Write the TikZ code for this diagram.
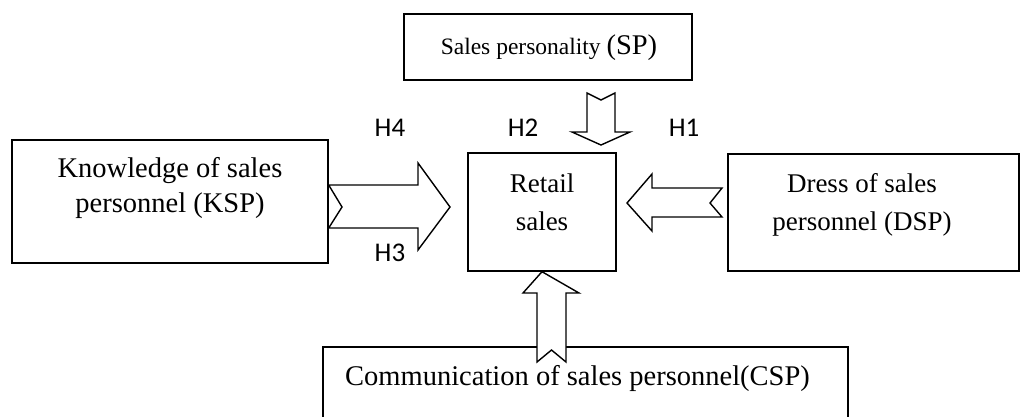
\documentclass[tikz,border=0pt]{standalone}
\usepackage{fontspec}
\setmainfont{Liberation Serif}
\newfontfamily\hfont{Carlito}
\begin{document}
\begin{tikzpicture}[x=1pt,y=-1pt,
  box/.style={draw, line width=1.4pt, inner sep=0pt},
  txt/.style={inner sep=0pt, font=\fontsize{28.5}{35}\selectfont},
  hlab/.style={inner sep=0pt, anchor=base, font=\hfont\fontsize{27}{30}\selectfont},
  blockarrow/.style={draw, fill=white, line width=1.4pt, line join=miter}]
\useasboundingbox (0,0) rectangle (1021,416);
% boxes
\node[box, minimum width=288pt, minimum height=66pt] (sp) at (548,47) {};
\node[box, minimum width=316pt, minimum height=123pt] (ksp) at (170,201.5) {};
\node[box, minimum width=148pt, minimum height=118pt] (ret) at (542,212) {};
\node[box, minimum width=291pt, minimum height=117pt] (dsp) at (873.5,212.5) {};
\node[box, minimum width=525pt, minimum height=93pt] (csp) at (585.5,393.5) {};
% texts
\node[txt, anchor=base] (spt) at (549,54) {{\fontsize{23.5}{28}\selectfont Sales personality }(SP)};
\node[txt, align=center, anchor=base] (kspt) at (170,212) {Knowledge of sales\\personnel (KSP)};
\node[txt, align=center, anchor=base, font=\fontsize{27}{38}\selectfont] (rett) at (542,230) {Retail\\sales};
\node[txt, align=center, anchor=base, font=\fontsize{27}{38}\selectfont] (dspt) at (862,230) {Dress of sales\\personnel (DSP)};
\node[txt, anchor=base west] (cspt) at (345,385) {Communication of sales personnel(CSP)};
% hypothesis labels
\node[hlab] (h4) at (390,136) {H4};
\node[hlab] (h3) at (390,261) {H3};
\node[hlab] (h2) at (523,136) {H2};
\node[hlab] (h1) at (684,136) {H1};
% block arrows
\draw[blockarrow] (ksp.east |- 0,185) -- (418,185) -- (418,163) -- (450,207) -- (418,250) -- (418,228) -- (ksp.east |- 0,228) -- (342,207) -- cycle;
\draw[blockarrow] (587,93) -- (601,100) -- (615,93) -- (615,132) -- (630,132) -- (601,145) -- (572,132) -- (587,132) -- cycle;
\draw[blockarrow] (722,188) -- (652,188) -- (652,174) -- (627,203) -- (652,231) -- (652,217) -- (722,217) -- (710,203) -- cycle;
\draw[blockarrow] (537,362) -- (537,293) -- (523,293) -- (ret.south) -- (579,293) -- (566,293) -- (566,362) -- (551.5,350) -- cycle;
\end{tikzpicture}
\end{document}
